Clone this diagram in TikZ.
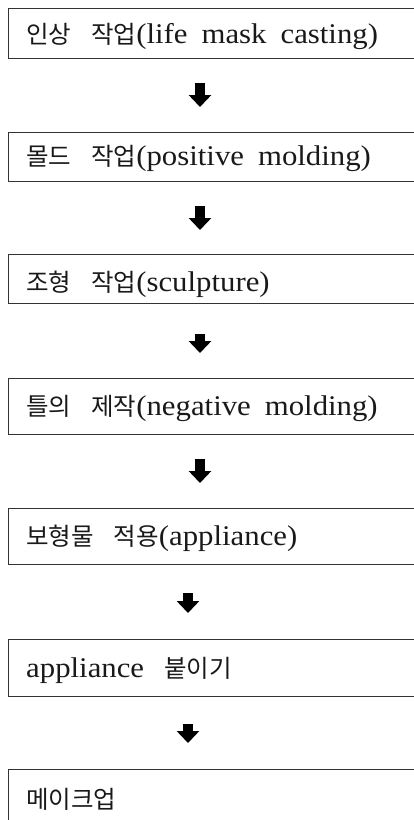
\documentclass[tikz,border=0pt]{standalone}
\usepackage{fontspec}
\setmainfont{Liberation Serif}[FakeStretch=1.08]
\newfontfamily\kr{Noto Sans CJK KR}
\usetikzlibrary{arrows.meta}

% Hangul runs, Korean word gap, Latin word gap
\newcommand\ko[1]{{\kr\fontsize{24.5pt}{29pt}\selectfont #1}}
\newcommand\kgap{\hspace{20pt}}
\newcommand\lgap{\hspace{14pt}}

\tikzset{
  stagebox/.style={draw=black!80, line width=1.2pt, anchor=north west,
    minimum width=430pt, inner sep=0pt},
  stagetext/.style={anchor=base west, inner sep=0pt,
    font=\fontsize{28.5pt}{34pt}\selectfont, text=black!90},
  flow/.style={line width=10pt, black, -{Triangle[width=22pt,length=12pt]}}
}

\begin{document}
\begin{tikzpicture}[x=1pt,y=1pt]
  \useasboundingbox (0,0) rectangle (414,-820);
  \clip (0,0) rectangle (414,-820);

  % process stages, open to the right edge
  \node[stagebox, minimum height=50pt] (b1) at (8,-8)   {};
  \node[stagebox, minimum height=49pt] (b2) at (8,-132) {};
  \node[stagebox, minimum height=49pt] (b3) at (8,-254) {};
  \node[stagebox, minimum height=56pt] (b4) at (8,-378) {};
  \node[stagebox, minimum height=56pt] (b5) at (8,-508) {};
  \node[stagebox, minimum height=57pt] (b6) at (8,-639) {};
  \node[stagebox, minimum height=60pt] (b7) at (8,-769) {};

  % stage labels
  \node[stagetext] (t1) at ([xshift=18pt,yshift=-35pt]b1.north west)
    {\ko{인상}\kgap\ko{작업}(life\lgap mask\lgap casting)};
  \node[stagetext] (t2) at ([xshift=18pt,yshift=-33pt]b2.north west)
    {\ko{몰드}\kgap\ko{작업}(positive\lgap molding)};
  \node[stagetext] (t3) at ([xshift=18pt,yshift=-37pt]b3.north west)
    {\ko{조형}\kgap\ko{작업}(sculpture)};
  \node[stagetext] (t4) at ([xshift=18pt,yshift=-37pt]b4.north west)
    {\ko{틀의}\kgap\ko{제작}(negative\lgap molding)};
  \node[stagetext] (t5) at ([xshift=18pt,yshift=-37pt]b5.north west)
    {\ko{보형물}\kgap\ko{적용}(appliance)};
  \node[stagetext] (t6) at ([xshift=18pt,yshift=-38pt]b6.north west)
    {appliance\kgap\ko{붙이기}};
  \node[stagetext] (t7) at ([xshift=18pt,yshift=-39pt]b7.north west)
    {\ko{메이크업}};

  % arrow columns
  \coordinate (colA) at (200,0);
  \coordinate (colB) at (188,0);

  \draw[flow, shorten <=24pt, shorten >=25pt] (b1.south -| colA) -- (b2.north -| colA);
  \draw[flow, shorten <=24pt, shorten >=24pt] (b2.south -| colA) -- (b3.north -| colA);
  \draw[flow, shorten <=30pt, shorten >=25pt] (b3.south -| colA) -- (b4.north -| colA);
  \draw[flow, shorten <=24pt, shorten >=25pt] (b4.south -| colA) -- (b5.north -| colA);
  \draw[flow, shorten <=28pt, shorten >=26pt] (b5.south -| colB) -- (b6.north -| colB);
  \draw[flow, shorten <=27pt, shorten >=26pt] (b6.south -| colB) -- (b7.north -| colB);
\end{tikzpicture}
\end{document}
